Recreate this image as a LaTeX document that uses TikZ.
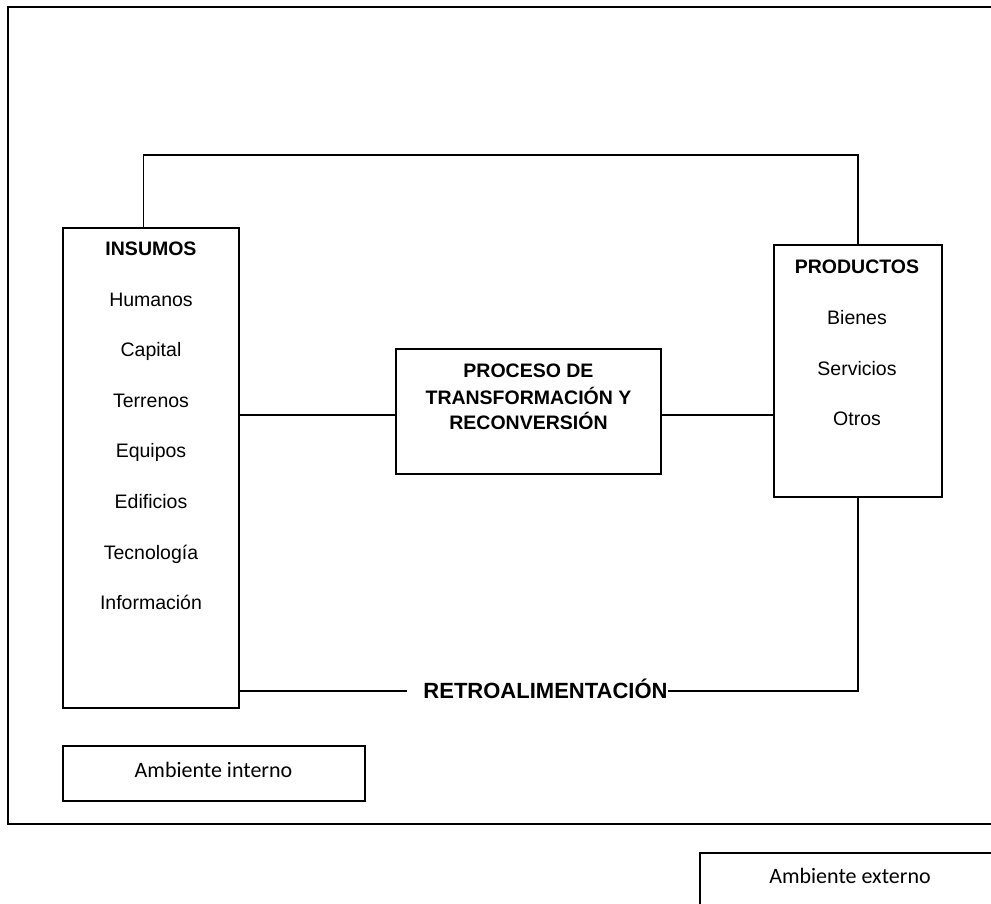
\documentclass[tikz,border=0pt]{standalone}
\usepackage{fontspec}
\setmainfont{Liberation Sans}
\newfontfamily\calib{Carlito}
\begin{document}
\begin{tikzpicture}[x=1pt,y=-1pt,
  line width=1.6pt,
  box/.style={draw,rectangle,inner sep=0pt,minimum width=#1},
  lbl/.style={anchor=base,inner sep=0pt,font=\fontsize{19.5}{23}\selectfont},
  hdr/.style={anchor=base,inner sep=0pt,font=\fontsize{19.5}{23}\selectfont\bfseries},
  envtxt/.style={anchor=base,inner sep=0pt,font=\calib\fontsize{22}{26}\selectfont}]
\useasboundingbox (0,0) rectangle (991,903);

% outer frame (internal environment) and external environment box
\draw (8,7) rectangle (1010,824);
\node[box=302pt,minimum height=55pt] (interno) at (214,773.5) {};
\node[envtxt] (interno-t) at (213.5,777) {Ambiente interno};
\draw (700,853) rectangle (1010,930);
\node[envtxt] (externo-t) at (850,883) {Ambiente externo};

% main blocks
\node[box=176pt,minimum height=480pt] (ins) at (151,468) {};
\node[box=168pt,minimum height=252pt] (prod) at (858,371) {};
\node[box=265pt,minimum height=125pt] (proc) at (528.5,411.5) {};

% inputs
\node[hdr] (i0) at (151,255.5) {INSUMOS};
\foreach \t [count=\k] in {Humanos,Capital,Terrenos,Equipos,Edificios,Tecnología,Información}
  \node[lbl] (i\k) at (151,255.5+50.6*\k) {\t};

% outputs
\node[hdr] (p0) at (857,273.5) {PRODUCTOS};
\foreach \t [count=\k] in {Bienes,Servicios,Otros}
  \node[lbl] (p\k) at (857,273.5+50.8*\k) {\t};

% process
\node[hdr] (c1) at (528.5,377) {PROCESO DE};
\node[hdr] (c2) at (528.5,404) {TRANSFORMACIÓN Y};
\node[hdr] (c3) at (528.5,429) {RECONVERSIÓN};

% feedback label
\node[anchor=base,inner sep=0pt,font=\fontsize{22}{26}\selectfont\bfseries] (fb) at (545.5,698) {RETROALIMENTACIÓN};
\coordinate (fby) at (0,691);
\coordinate (midl) at (0,415);
\coordinate (toprail) at (500,155);

% connectors
\draw ([xshift=-7.5pt]ins.north) |- (toprail) -| (prod.north);
\draw (ins.east |- midl) -- (proc.west |- midl);
\draw (proc.east |- midl) -- (prod.west |- midl);
\draw (ins.east |- fby) -- ([xshift=-16pt]fb.west |- fby);
\draw (fb.east |- fby) -| (prod.south);
\end{tikzpicture}
\end{document}
